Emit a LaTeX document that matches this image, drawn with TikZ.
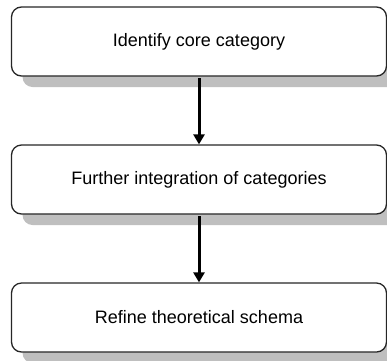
\documentclass[tikz,border=0pt]{standalone}
\usepackage{fontspec}
\setmainfont{Liberation Sans}
\usetikzlibrary{arrows.meta,shadows}
\begin{document}
\begin{tikzpicture}[x=1pt,y=-1pt,
  stepbox/.style={draw=black!85, line width=1.3pt, rounded corners=10pt, fill=white,
    minimum width=375pt, minimum height=69pt, inner sep=0pt,
    font=\fontsize{18}{22}\selectfont,
    drop shadow={shadow xshift=11pt, shadow yshift=-11pt, fill=black!25, opacity=1}},
  arr/.style={line width=3pt, -{Triangle[width=11pt,length=10pt]}}]
\useasboundingbox (0,0) rectangle (387,360);
\node[stepbox] (b1) at (199,41.5) {Identify core category};
\node[stepbox] (b2) at (199,179.5) {Further integration of categories};
\node[stepbox] (b3) at (199,317.5) {Refine theoretical schema};
\draw[arr] (b1.south) ++(0,1.5) -- (b2.north);
\draw[arr] (b2.south) ++(0,1.5) -- (b3.north);
\end{tikzpicture}
\end{document}
